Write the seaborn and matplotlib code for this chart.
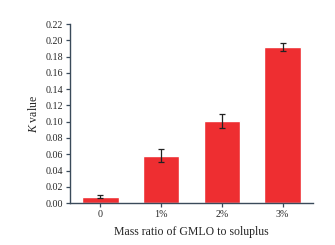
import matplotlib
matplotlib.use('Agg')
import matplotlib.pyplot as plt
import seaborn as sns
import pandas as pd

categories = ['0', '1%', '2%', '3%']
k_values = [0.008, 0.058, 0.101, 0.192]
k_errors = [0.002, 0.008, 0.009, 0.005]
y_ticks = [0.00, 0.02, 0.04, 0.06, 0.08, 0.10, 0.12, 0.14, 0.16, 0.18, 0.20, 0.22]

sns.set_style('ticks')
plt.rcParams['font.family'] = ['Liberation Serif', 'DejaVu Serif']
plt.rcParams['mathtext.fontset'] = 'custom'
plt.rcParams['mathtext.it'] = 'Liberation Serif:italic'
plt.rcParams['mathtext.rm'] = 'Liberation Serif'

df = pd.DataFrame({'ratio': categories, 'k': k_values})

fig = plt.figure(figsize=(3.35, 2.45), dpi=100)
ax = fig.add_axes([0.209, 0.171, 0.725, 0.731])
sns.barplot(data=df, x='ratio', y='k', color='#ee2e31', saturation=1,
            width=0.6, errorbar=None, ax=ax)
ax.errorbar(range(len(categories)), k_values, yerr=k_errors, fmt='none',
            ecolor='#222222', elinewidth=0.9, capsize=2, capthick=0.9)

ax.set_ylim(0, 0.22)
ax.set_xlim(-0.5, 3.5)
ax.set_yticks(y_ticks)
ax.set_yticklabels([f'{t:.2f}' for t in y_ticks])
ax.set_xlabel('Mass ratio of GMLO to soluplus', fontsize=8.5, labelpad=5)
ax.set_ylabel(r'$K$ value', fontsize=8.5, labelpad=4)
ax.tick_params(axis='both', labelsize=7.2, length=3, width=0.9, color='#3a4a5a', pad=2)
for side in ['left', 'bottom']:
    ax.spines[side].set_color('#3a4a5a')
    ax.spines[side].set_linewidth(1.0)
sns.despine(ax=ax)

fig.savefig('out.png', dpi=100)
